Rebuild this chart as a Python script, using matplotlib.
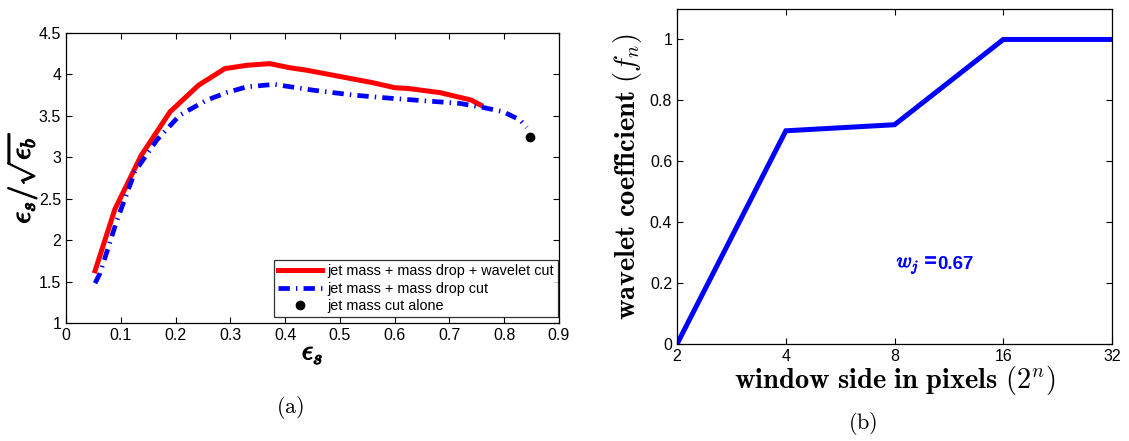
import numpy as np
import matplotlib
matplotlib.use("Agg")
import matplotlib.pyplot as plt
import matplotlib.patheffects as pe

plt.rcParams['mathtext.fontset'] = 'cm'
plt.rcParams['font.family'] = ['Liberation Sans', 'DejaVu Sans']

# (a) significance vs signal efficiency
eff_wavelet = [0.053, 0.089, 0.137, 0.19, 0.242, 0.29, 0.33, 0.372, 0.409, 0.44,
               0.48, 0.52, 0.56, 0.60, 0.625, 0.683, 0.74, 0.757]
sig_wavelet = [1.63, 2.37, 3.02, 3.55, 3.87, 4.07, 4.11, 4.13, 4.08, 4.05,
               4.0, 3.95, 3.9, 3.84, 3.83, 3.78, 3.69, 3.63]
eff_massdrop = [0.053, 0.062, 0.093, 0.126, 0.166, 0.208, 0.257, 0.293, 0.33, 0.38,
                0.451, 0.525, 0.597, 0.658, 0.719, 0.762, 0.798, 0.829, 0.841]
sig_massdrop = [1.48, 1.6, 2.24, 2.83, 3.21, 3.51, 3.69, 3.78, 3.85, 3.88,
                3.81, 3.75, 3.71, 3.68, 3.65, 3.6, 3.55, 3.45, 3.36]
eff_mass_only = [0.848]
sig_mass_only = [3.24]

# (b) wavelet coefficient per window size
window_px = [2, 4, 8, 16, 32]
coeff = [0.0, 0.70, 0.72, 1.0, 1.0]
w_j = 0.67

fig = plt.figure(figsize=(11.29, 4.41), dpi=100)
ax1 = fig.add_axes([0.0585, 0.2676, 0.4366, 0.6576])
ax2 = fig.add_axes([0.5997, 0.22, 0.3853, 0.7596])

for ax in (ax1, ax2):
    ax.tick_params(direction='in', top=True, right=True, labelsize=11.5, length=4)
    for sp in ax.spines.values():
        sp.set_linewidth(0.9)

# thicken the math labels so they read as bold
heavy = [pe.withStroke(linewidth=0.9, foreground='black')]

ax1.plot(eff_wavelet, sig_wavelet, color='#ff0000', lw=3.6,
         label='jet mass + mass drop + wavelet cut')
ax1.plot(eff_massdrop, sig_massdrop, color='#0000ff', lw=3.4,
         linestyle=(0, (2.4, 1.3, 0.3, 1.3)), label='jet mass + mass drop cut')
ax1.plot(eff_mass_only, sig_mass_only, 'o', color='black', ms=6,
         label='jet mass cut alone')
ax1.set_xlim(0, 0.9)
ax1.set_ylim(1, 4.5)
ax1.set_xticks(np.arange(0, 0.91, 0.1))
ax1.set_xticklabels(['0', '0.1', '0.2', '0.3', '0.4', '0.5', '0.6', '0.7', '0.8', '0.9'])
ax1.set_yticks(np.arange(1, 4.51, 0.5))
ax1.set_yticklabels(['1', '1.5', '2', '2.5', '3', '3.5', '4', '4.5'])
xl = ax1.set_xlabel(r'$\epsilon_s$', fontsize=20, labelpad=-2)
yl = ax1.set_ylabel(r'$\epsilon_s/\sqrt{\epsilon_b}$', fontsize=21, labelpad=0)
xl.set_path_effects(heavy)
yl.set_path_effects(heavy)
leg = ax1.legend(loc='lower right', bbox_to_anchor=(0.999, 0.02), fontsize=10.4,
                 frameon=True, fancybox=False, edgecolor='black', handlelength=3.0,
                 borderpad=0.3, labelspacing=0.22, borderaxespad=0.0, handletextpad=0.4)
leg.get_frame().set_linewidth(0.9)
fig.text(0.257, 0.075, r'$\mathrm{(a)}$', fontsize=16, ha='center', va='center')

ax2.plot(window_px, coeff, color='#0000ff', lw=3.6, solid_joinstyle='miter')
ax2.set_xscale('log', base=2)
ax2.set_xlim(2, 32)
ax2.set_ylim(0, 1.1)
ax2.set_xticks(window_px)
ax2.set_xticklabels([str(v) for v in window_px])
ax2.minorticks_off()
ax2.set_yticks([0, 0.2, 0.4, 0.6, 0.8, 1])
ax2.set_yticklabels(['0', '0.2', '0.4', '0.6', '0.8', '1'])
ax2.set_xlabel(r'$\mathbf{window\ side\ in\ pixels\ (2}^{n}\mathbf{)}$', fontsize=20.5, labelpad=0)
yl2 = ax2.set_ylabel(r'$\mathbf{wavelet\ coefficient\ (}f_n\mathbf{)}$', fontsize=20.5, labelpad=4)
ax2.text(8.1, 0.26, r'$w_j$ =', color='#0000ff', fontsize=15, va='center', ha='left',
         path_effects=[pe.withStroke(linewidth=0.6, foreground='#0000ff')])
ax2.text(10.5, 0.26, f'{w_j:.2f}', color='#0000ff', fontsize=13.5, fontweight='bold',
         va='center', ha='left')
fig.text(0.764, 0.04, r'$\mathrm{(b)}$', fontsize=16, ha='center', va='center')

fig.savefig('out.png', dpi=100)
